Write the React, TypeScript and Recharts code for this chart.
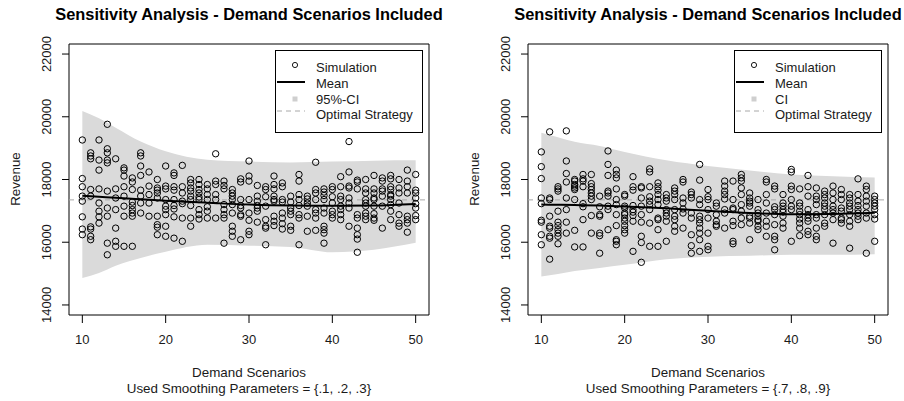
import React from 'react';
import { ComposedChart, Area, Line, Scatter, XAxis, YAxis, ReferenceLine, ReferenceArea, Customized } from 'recharts';

const scenarios = [10, 11, 12, 13, 14, 15, 16, 17, 18, 19, 20, 21, 22, 23, 24, 25, 26, 27, 28, 29, 30,
  31, 32, 33, 34, 35, 36, 37, 38, 39, 40, 41, 42, 43, 44, 45, 46, 47, 48, 49, 50];
const xTicks = [10, 20, 30, 40, 50];
const yTicks = [14000, 16000, 18000, 20000, 22000];
const optimalRevenue = 17350;

// simulated revenue per demand scenario, smoothing params {.1, .2, .3}
const simLow = [
  [19260, 18030, 17770, 17470, 17310, 16810, 16420, 16240],
  [18850, 18750, 18660, 17680, 17470, 16490, 16420, 16190, 16080],
  [19260, 18620, 18300, 17700, 17250, 16990, 16810, 16610],
  [19760, 18980, 18850, 18620, 18530, 17630, 17090, 16830, 15970, 15600],
  [18660, 17700, 17410, 17040, 16450, 16030, 15870],
  [18370, 18300, 18110, 17770, 17470, 17150, 16830, 15870],
  [18050, 17920, 17680, 17280, 17170, 17040, 16930, 16830, 15870],
  [18850, 18750, 18430, 18130, 17660, 17470, 17250, 16930],
  [18240, 17790, 17520, 17250, 16830],
  [18000, 17730, 17660, 17570, 17410, 16830, 16560, 16480, 16240],
  [18430, 17790, 17700, 17360, 17150, 17040, 16880, 16510, 16190],
  [18210, 18130, 17770, 17660, 17360, 17170, 17060, 16810, 16130],
  [18450, 17770, 17570, 17310, 17230, 16770, 16030],
  [18000, 17890, 17730, 17630, 17470, 17360, 17170, 16770, 16510],
  [18000, 17840, 17680, 17570, 17440, 17360, 17040, 16880, 16740],
  [17840, 17700, 17520, 17360, 17130, 16990, 16770],
  [18820, 17950, 17840, 17520, 17360, 16770],
  [17950, 17810, 17700, 17200, 17040, 16880, 16770, 15970],
  [17680, 17570, 17470, 17360, 17200, 16930, 16510, 16350, 16190],
  [18020, 17920, 17360, 17170, 17090, 16880, 16830, 16080],
  [18590, 18110, 17950, 17360, 16930, 16700, 16350, 16240],
  [17810, 17470, 17310, 17170, 17090, 16990, 16640],
  [17770, 17680, 17450, 17150, 16720, 16510, 16450, 15920],
  [18110, 17840, 17700, 17470, 17360, 17310, 16830, 16670, 16530],
  [17890, 17770, 17360, 17280, 16930, 16770, 16590, 16420],
  [17470, 17280, 17090, 16990, 16880, 16510, 16380],
  [18160, 17950, 17520, 17360, 17170, 16880, 16770, 15920],
  [17470, 17380, 17250, 17150, 16830, 16350],
  [18550, 17680, 17570, 17360, 17040, 16930, 16770, 16380],
  [17700, 17600, 17490, 17360, 17090, 16930, 16510, 16400, 16290, 15970],
  [17770, 17680, 17450, 17250, 16990, 16880, 16770],
  [18090, 17770, 17470, 17360, 17150, 17040, 16880, 16720],
  [19210, 18240, 17790, 17730, 17410, 17250, 17090, 16510],
  [17980, 17920, 17700, 16880, 16770, 16450, 16240, 16100, 15680],
  [18000, 17700, 17570, 17360, 17250, 17150, 16930, 16830, 16720],
  [18130, 17700, 17570, 17410, 17360, 17150, 16910, 16770, 16700],
  [18050, 17950, 17700, 17630, 17470, 17150, 16450],
  [18130, 18020, 17770, 17680, 17520, 17470, 17360, 17200, 16990, 16720],
  [18000, 17730, 17570, 17250, 16880, 16610, 16510],
  [18300, 17950, 17770, 17570, 16830, 16720, 16610, 16320],
  [18160, 17660, 17570, 17410, 17230, 17090, 16850, 16720],
];

// smoothing params {.7, .8, .9}
const simHigh = [
  [18880, 18410, 18030, 17410, 17230, 16700, 16640, 16240, 15920],
  [19520, 17410, 17360, 16830, 16510, 16450, 16190, 16130, 15460],
  [17770, 17700, 17630, 16990, 16640, 16530, 16400, 16290, 16190, 15950],
  [19550, 18590, 18190, 17920, 17410, 17040, 16640, 16290],
  [18000, 17950, 17840, 17790, 17730, 17680, 17360, 16380, 15850],
  [18160, 18020, 17950, 17770, 17230, 17130, 16720, 15850],
  [18160, 17870, 17770, 17680, 17570, 17470, 17360, 16850, 16290],
  [17470, 17130, 16880, 16830, 16290, 16210, 15650],
  [18910, 18480, 18130, 17630, 17570, 17470, 17150, 17040, 16400],
  [18300, 18160, 18050, 17700, 17360, 17200, 16880, 16530, 16080, 16030, 15920],
  [17520, 17470, 17150, 17090, 16930, 16880, 16770, 16670, 16530, 16400, 16290],
  [18090, 17770, 17660, 17170, 17040, 16960, 16850, 16670, 15710],
  [17770, 17730, 17410, 17150, 16880, 16640, 16190, 15990, 15360],
  [18340, 18240, 17770, 17450, 17310, 17200, 17040, 16610, 15870],
  [17890, 17770, 17660, 17520, 17360, 17200, 16770, 16720, 16400, 15870],
  [17520, 17410, 17310, 17040, 16930, 16830, 16670, 16030],
  [17730, 17630, 17520, 17360, 17040, 16830, 16720, 16510, 16350],
  [18000, 17920, 17410, 17250, 17060, 16930, 16450],
  [17600, 17520, 17410, 16930, 16770, 16240, 15890, 15650],
  [18480, 17980, 17360, 17200, 16830, 16720, 16610, 16450, 16290, 16080, 15710],
  [17680, 17450, 17360, 17040, 16770, 16290, 15870, 15760],
  [17250, 17150, 16880, 16670, 16560, 16510],
  [17950, 17790, 17630, 17520, 17380, 17040, 16930, 16450],
  [17950, 17360, 17090, 17040, 16670, 16530, 16030, 15950],
  [18160, 18050, 17950, 17730, 17520, 17200, 16990, 16770, 16560],
  [17570, 17410, 17310, 17250, 17150, 16830, 16770, 16610, 16080],
  [17360, 17040, 16930, 16830, 16720, 16670, 16510, 16400],
  [18000, 17920, 17520, 17250, 16930, 16670, 16510, 16190],
  [17790, 17700, 17130, 17040, 16880, 16560, 16190, 16080, 15760],
  [17520, 17250, 17150, 17040, 16960, 16830, 16610, 16450],
  [18320, 18240, 17790, 17680, 17360, 17150, 17040, 16030],
  [17700, 17250, 17150, 16990, 16880, 16740, 16610, 16450, 16210],
  [18130, 17770, 17470, 17040, 16880, 16770, 16670, 16350, 16240],
  [17730, 17470, 17360, 17200, 16880, 16770, 16450, 16190, 16080],
  [17630, 17520, 17410, 17250, 17150, 17040, 16880, 16610, 16510],
  [17790, 17570, 17360, 17150, 17040, 16930, 16720, 15970],
  [17680, 17520, 17360, 17090, 16990, 16770, 16720, 16610],
  [17520, 17410, 17250, 17150, 17040, 16880, 16670, 16510, 15810],
  [18020, 17520, 17310, 17170, 17040, 16930, 16830, 16720],
  [17790, 17680, 17470, 17310, 17150, 16930, 16770, 15650],
  [17470, 17360, 17250, 17150, 17040, 16880, 16740, 16030],
];

// mean curve and 95% band, read at these scenarios
const bandX = [10, 12, 14, 17, 20, 25, 30, 35, 40, 45, 50];
const lowUpper = [20180, 19950, 19650, 19210, 18900, 18630, 18570, 18540, 18570, 18600, 18610];
const lowLower = [14860, 15020, 15250, 15500, 15700, 15920, 15890, 15850, 15680, 15760, 15980];
const lowMean = [17480, 17450, 17420, 17370, 17320, 17260, 17200, 17170, 17160, 17170, 17220];
const highUpper = [19490, 19350, 19200, 19070, 18880, 18610, 18430, 18290, 18160, 18100, 18060];
const highLower = [14910, 14990, 15080, 15180, 15280, 15460, 15540, 15570, 15600, 15600, 15620];
const highMean = [17200, 17195, 17185, 17170, 17140, 17080, 17000, 16930, 16890, 16900, 16940];

const FONT = '"Liberation Sans", Arial, sans-serif';

const Dot = (props: any) => (
  <circle cx={props.cx} cy={props.cy} r={3.2} fill="none" stroke="#000" strokeWidth={1} />
);

const YTick = (props: any) => {
  const { x, y, payload } = props;
  const bx = x - 9;
  return (
    <text x={bx} y={y} transform={`rotate(-90, ${bx}, ${y})`} textAnchor="middle" fontSize={13} fill="#1a1a1a" fontFamily={FONT}>
      {payload.value}
    </text>
  );
};

const Overlay = ({ ciLabel, params }: { ciLabel: string; params: string }) => (
  <g fontFamily={FONT}>
    <text x={249} y={20} textAnchor="middle" fontSize={16.4} fontWeight="bold" fill="#000">
      Sensitivity Analysis - Demand Scenarios Included
    </text>
    <text x={20} y={179} transform="rotate(-90, 20, 179)" textAnchor="middle" fontSize={13.4} fill="#1a1a1a">Revenue</text>
    <text x={249} y={377} textAnchor="middle" fontSize={13.4} fill="#1a1a1a">Demand Scenarios</text>
    <text x={249} y={393} textAnchor="middle" fontSize={13.4} fill="#1a1a1a">{`Used Smoothing Parameters = ${params}`}</text>
    <rect x={275.5} y={50.5} width={147} height={82} fill="#fff" stroke="#000" />
    <circle cx={295} cy={65} r={2.6} fill="none" stroke="#000" strokeWidth={0.9} />
    <line x1={277} y1={82} x2={305} y2={82} stroke="#000" strokeWidth={2} />
    <rect x={292.5} y={96.5} width={5} height={5} fill="#cfcfcf" />
    <line x1={277} y1={111} x2={305} y2={111} stroke="#a8a8a8" strokeDasharray="5 4" />
    <g fontSize={13} fill="#1a1a1a">
      <text x={316} y={71.5}>Simulation</text>
      <text x={316} y={87.5}>Mean</text>
      <text x={316} y={103.5}>{ciLabel}</text>
      <text x={316} y={118.5}>Optimal Strategy</text>
    </g>
  </g>
);

type PanelProps = {
  sim: number[][];
  upper: number[];
  lower: number[];
  mean: number[];
  ciLabel: string;
  params: string;
  width: number;
};

const Panel = ({ sim, upper, lower, mean, ciLabel, params, width }: PanelProps) => {
  const bandData = bandX.map((x, i) => ({ x, ci: [lower[i], upper[i]], mean: mean[i] }));
  const points = scenarios.flatMap((x, i) => sim[i].map((y) => ({ x, y })));
  return (
    <ComposedChart width={width} height={401} data={bandData} margin={{ top: 44, right: width - 429, bottom: 0, left: 0 }}>
      <XAxis dataKey="x" type="number" domain={[8.4, 51.6]} ticks={xTicks} allowDataOverflow interval={0}
        axisLine={false} tickLine={{ stroke: '#000' }} tickSize={8} tickMargin={12} height={86}
        tick={{ fill: '#1a1a1a', fontSize: 13, fontFamily: FONT }} />
      <YAxis type="number" domain={[13680, 22320]} ticks={yTicks} allowDataOverflow interval={0}
        axisLine={false} tickLine={{ stroke: '#000' }} tickSize={7} width={69} tick={YTick} />
      <Area dataKey="ci" type="monotone" fill="#dadada" fillOpacity={1} stroke="none" isAnimationActive={false} />
      <ReferenceLine y={optimalRevenue} stroke="#a8a8a8" strokeDasharray="5 4" />
      <Scatter data={points} dataKey="y" shape={Dot} isAnimationActive={false} />
      <Line dataKey="mean" type="monotone" stroke="#000" strokeWidth={2} dot={false} isAnimationActive={false} />
      <ReferenceArea x1={8.4} x2={51.6} y1={13680} y2={22320} fill="none" fillOpacity={0} stroke="#000" ifOverflow="visible" />
      <Customized component={() => <Overlay ciLabel={ciLabel} params={params} />} />
    </ComposedChart>
  );
};

export default function App() {
  return (
    <div style={{ position: 'absolute', left: 0, top: 0, width: 904, height: 401, background: '#fff' }}>
      <div style={{ position: 'absolute', left: 0, top: 0 }}>
        <Panel sim={simLow} upper={lowUpper} lower={lowLower} mean={lowMean} ciLabel="95%-CI" params="{.1, .2, .3}" width={459} />
      </div>
      <div style={{ position: 'absolute', left: 459, top: 0 }}>
        <Panel sim={simHigh} upper={highUpper} lower={highLower} mean={highMean} ciLabel="CI" params="{.7, .8, .9}" width={445} />
      </div>
    </div>
  );
}
